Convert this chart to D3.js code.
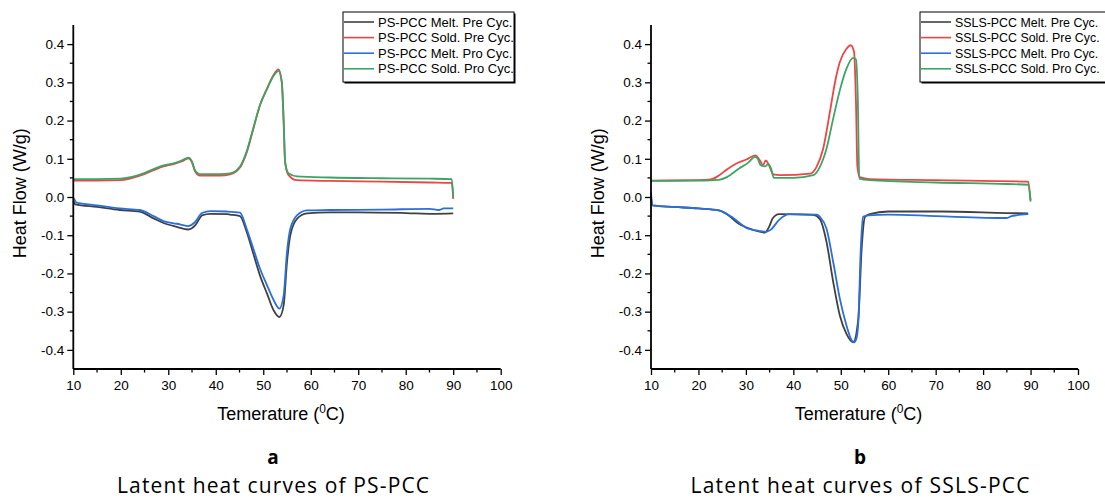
<!DOCTYPE html>
<html>
<head>
<meta charset="utf-8">
<script src="https://cdn.jsdelivr.net/npm/d3@7"></script>
<style>
  html, body { margin: 0; padding: 0; background: #fff; }
  svg { display: block; }
</style>
</head>
<body>
<svg id="chart" width="1105" height="498"></svg>
<script>
// ---------- DATA ----------
const xTicks = [10, 20, 30, 40, 50, 60, 70, 80, 90, 100];
const xMinor = [15, 25, 35, 45, 55, 65, 75, 85, 95];
const yTicks = [-0.4, -0.3, -0.2, -0.1, 0.0, 0.1, 0.2, 0.3, 0.4];
const yMinor = [-0.35, -0.25, -0.15, -0.05, 0.05, 0.15, 0.25, 0.35];

const seriesNamesA = ["PS-PCC Melt. Pre Cyc.", "PS-PCC Sold. Pre Cyc.", "PS-PCC Melt. Pro Cyc.", "PS-PCC Sold. Pro Cyc."];
const seriesNamesB = ["SSLS-PCC Melt. Pre Cyc.", "SSLS-PCC Sold. Pre Cyc.", "SSLS-PCC Melt. Pro Cyc.", "SSLS-PCC Sold. Pro Cyc."];
const seriesColors = ["#404040", "#ee4444", "#2a6fdb", "#3aa566"];

// Panel a : PS-PCC  [temperature °C, heat flow W/g]
const psMeltPre = [[10,-0.010],[10.4,-0.019],[15,-0.026],[19.8,-0.034],[24,-0.038],[26.9,-0.056],[29,-0.068],[31.8,-0.078],[34.2,-0.085],[35.6,-0.075],[36.5,-0.058],[37.1,-0.048],[38.9,-0.044],[42.4,-0.045],[43,-0.046],[45.1,-0.050],[46.5,-0.091],[47.9,-0.148],[49.3,-0.205],[50.8,-0.253],[52.2,-0.297],[53.4,-0.314],[54.3,-0.283],[55.0,-0.170],[55.7,-0.100],[57.1,-0.057],[59.2,-0.043],[64,-0.040],[70,-0.040],[80,-0.042],[86,-0.044],[90,-0.043]];
const psSoldPre = [[10,0.043],[15,0.043],[20,0.044],[22.1,0.049],[24.8,0.059],[26.9,0.070],[29,0.080],[31.1,0.086],[32.8,0.093],[34.2,0.101],[35,0.090],[35.6,0.068],[36.7,0.056],[40.9,0.056],[43,0.059],[45.1,0.077],[46.5,0.116],[47.9,0.178],[49.3,0.240],[50.8,0.284],[52.2,0.320],[53.2,0.334],[53.9,0.302],[54.3,0.196],[54.6,0.090],[55.3,0.058],[57.1,0.044],[64,0.042],[75,0.040],[85,0.038],[89.7,0.037],[90,-0.005]];
const psMeltPro = [[10,-0.003],[10.3,-0.008],[10.6,-0.014],[15,-0.022],[19.8,-0.030],[24,-0.034],[26.9,-0.050],[29,-0.063],[31.8,-0.070],[34.2,-0.076],[35.6,-0.066],[37.1,-0.042],[38.9,-0.037],[42.4,-0.038],[45.1,-0.041],[46.5,-0.083],[47.9,-0.135],[49.3,-0.187],[50.8,-0.231],[52.2,-0.270],[53.4,-0.292],[54.3,-0.257],[55.0,-0.144],[55.7,-0.083],[57.1,-0.048],[59.2,-0.035],[64,-0.034],[75,-0.033],[85,-0.031],[87,-0.034],[88,-0.030],[90,-0.030]];
const psSoldPro = [[10,0.047],[15,0.047],[20,0.048],[22.1,0.052],[24.8,0.062],[26.9,0.073],[29,0.083],[31.1,0.088],[32.8,0.095],[34.2,0.103],[35,0.093],[35.6,0.071],[36.7,0.060],[40.9,0.060],[43,0.062],[45.1,0.080],[46.5,0.119],[47.9,0.180],[49.3,0.240],[50.8,0.283],[52.2,0.317],[53.2,0.330],[53.9,0.300],[54.3,0.196],[54.6,0.094],[55.3,0.062],[57.1,0.054],[64,0.051],[75,0.049],[85,0.048],[89.7,0.047],[90,0.000]];

// Panel b : SSLS-PCC
const sslsMeltPre = [[10,0.000],[10.3,-0.022],[15,-0.026],[20,-0.030],[24.3,-0.035],[26,-0.045],[28.5,-0.070],[31.3,-0.085],[34.0,-0.093],[35.0,-0.075],[35.6,-0.057],[37,-0.045],[44.2,-0.047],[45.6,-0.058],[47.0,-0.118],[48.4,-0.222],[49.8,-0.310],[51.2,-0.358],[52.6,-0.380],[53.7,-0.318],[54.4,-0.135],[55.1,-0.052],[56.1,-0.045],[60,-0.038],[71,-0.038],[85,-0.042],[89.5,-0.043]];
const sslsSoldPre = [[10,0.043],[20,0.044],[22.6,0.046],[24.3,0.056],[26,0.072],[27.9,0.087],[30.1,0.098],[32.0,0.109],[33.0,0.095],[33.6,0.083],[34.2,0.096],[34.8,0.085],[35.8,0.059],[37.2,0.057],[43.5,0.061],[44.9,0.079],[46.3,0.127],[47.7,0.222],[48.8,0.301],[49.8,0.353],[51.2,0.388],[52.1,0.397],[52.8,0.380],[53.2,0.249],[53.5,0.080],[54.0,0.052],[56.1,0.047],[70,0.044],[89.5,0.040],[90,-0.008]];
const sslsMeltPro = [[10,0.012],[10.3,-0.022],[15,-0.026],[20,-0.030],[24.3,-0.035],[27,-0.052],[30,-0.080],[32.9,-0.089],[34.3,-0.091],[35.2,-0.086],[37,-0.060],[39.1,-0.045],[45,-0.046],[45.6,-0.052],[47.0,-0.083],[48.4,-0.170],[49.8,-0.266],[51.2,-0.336],[52.3,-0.375],[52.8,-0.380],[53.3,-0.370],[53.7,-0.327],[54.2,-0.140],[54.7,-0.052],[55.8,-0.048],[60,-0.046],[70,-0.050],[85,-0.055],[86,-0.050],[87,-0.048],[89.5,-0.045]];
const sslsSoldPro = [[10,0.042],[20,0.043],[24.3,0.045],[26,0.052],[28.5,0.074],[30.5,0.090],[31.9,0.105],[32.5,0.100],[33.1,0.083],[34.0,0.080],[34.7,0.086],[35.3,0.075],[35.9,0.050],[40,0.050],[44.2,0.057],[45.6,0.079],[47.0,0.127],[48.4,0.205],[49.8,0.279],[51.2,0.336],[52.6,0.364],[53.2,0.360],[53.6,0.249],[53.9,0.048],[56.1,0.044],[70,0.038],[85,0.034],[89.5,0.032],[90,-0.012]];

// ---------- DRAW ----------
const svg = d3.select("#chart");
const axisFont = "'Liberation Sans', Arial, sans-serif";

function panel(cfg) {
  const x = d3.scaleLinear().domain([10, 100]).range([cfg.x0, cfg.x1]);
  const y = d3.scaleLinear().domain([-0.45, 0.45]).range([369, 25]);
  const g = svg.append("g");

  // curves
  const line = d3.line().x(d => x(d[0])).y(d => y(d[1])).curve(d3.curveMonotoneX);
  cfg.series.forEach((s, i) => {
    g.append("path").datum(s).attr("d", line)
      .attr("fill", "none").attr("stroke", seriesColors[i])
      .attr("stroke-width", 1.8).attr("stroke-linejoin", "round");
  });

  // axes
  const ya = g.append("g").attr("transform", `translate(${cfg.x0},0)`)
    .call(d3.axisLeft(y).tickValues(yTicks).tickSize(6).tickPadding(3).tickFormat(d => d.toFixed(1)));
  ya.append("g").selectAll("line").data(yMinor).join("line")
    .attr("x1", 0).attr("x2", -3.5).attr("y1", d => y(d)).attr("y2", d => y(d))
    .attr("stroke", "#000").attr("stroke-width", 1.3);
  const xa = g.append("g").attr("transform", `translate(0,369)`)
    .call(d3.axisBottom(x).tickValues(xTicks).tickSize(6).tickPadding(5).tickFormat(d => d));
  xa.append("g").selectAll("line").data(xMinor).join("line")
    .attr("x1", d => x(d)).attr("x2", d => x(d)).attr("y1", 0).attr("y2", 3.5)
    .attr("stroke", "#000").attr("stroke-width", 1.3);
  [ya, xa].forEach(a => {
    a.select(".domain").attr("stroke-width", 1.8);
    a.selectAll(".tick line").attr("stroke-width", 1.3);
    a.selectAll(".tick text").attr("font-family", axisFont).attr("font-size", 13.5).attr("fill", "#000");
  });
  ya.select(".domain").attr("d", `M0,${y(0.45)}V${y(-0.45)}`);
  xa.select(".domain").attr("d", `M${cfg.x0},0H${cfg.x1}`);

  // axis titles
  g.append("text").attr("transform", `translate(${cfg.x0 - 47},${y(0.01)}) rotate(-90)`)
    .attr("text-anchor", "middle").attr("font-family", axisFont).attr("font-size", 18)
    .text("Heat Flow (W/g)");
  const xt = g.append("text").attr("x", (cfg.x0 + cfg.x1) / 2 - 6).attr("y", 420)
    .attr("text-anchor", "middle").attr("font-family", axisFont).attr("font-size", 18);
  xt.append("tspan").text("Temerature (");
  xt.append("tspan").attr("dy", -7).attr("font-size", 12).text("0");
  xt.append("tspan").attr("dy", 7).text("C)");

  // legend
  const lg = g.append("g").attr("transform", `translate(${cfg.lx},12)`);
  lg.append("rect").attr("x", 1.5).attr("y", 1.5).attr("width", cfg.lw).attr("height", 70).attr("fill", "#000");
  lg.append("rect").attr("x", 0).attr("y", 0).attr("width", cfg.lw).attr("height", 70)
    .attr("fill", "#fff").attr("stroke", "#000").attr("stroke-width", 1);
  cfg.names.forEach((n, i) => {
    const yy = 10 + i * 15.6;
    lg.append("line").attr("x1", 1).attr("x2", 31).attr("y1", yy).attr("y2", yy)
      .attr("stroke", seriesColors[i]).attr("stroke-width", 1.6);
    lg.append("text").attr("x", 35).attr("y", yy + 4.5)
      .attr("font-family", axisFont).attr("font-size", cfg.lfs).text(n);
  });

  // caption
  const cx = cfg.cx;
  svg.append("text").attr("x", cx).attr("y", 464).attr("text-anchor", "middle")
    .attr("font-family", "'Open Sans', sans-serif").attr("font-weight", "bold").attr("font-size", 19)
    .text(cfg.letter);
  svg.append("text").attr("x", cx).attr("y", 493).attr("text-anchor", "middle")
    .attr("font-family", "'Open Sans', sans-serif").attr("font-size", 21)
    .attr("textLength", cfg.capW).attr("lengthAdjust", "spacing")
    .text(cfg.caption);
}

panel({ x0: 73.3, x1: 500.7, series: [psMeltPre, psSoldPre, psMeltPro, psSoldPro], names: seriesNamesA,
        lx: 343, lw: 171, lfs: 13, cx: 273, letter: "a", caption: "Latent heat curves of PS-PCC", capW: 312 });
panel({ x0: 651, x1: 1078, series: [sslsMeltPre, sslsSoldPre, sslsMeltPro, sslsSoldPro], names: seriesNamesB,
        lx: 920, lw: 192, lfs: 12.4, cx: 860, letter: "b", caption: "Latent heat curves of SSLS-PCC", capW: 339 });
</script>
</body>
</html>
